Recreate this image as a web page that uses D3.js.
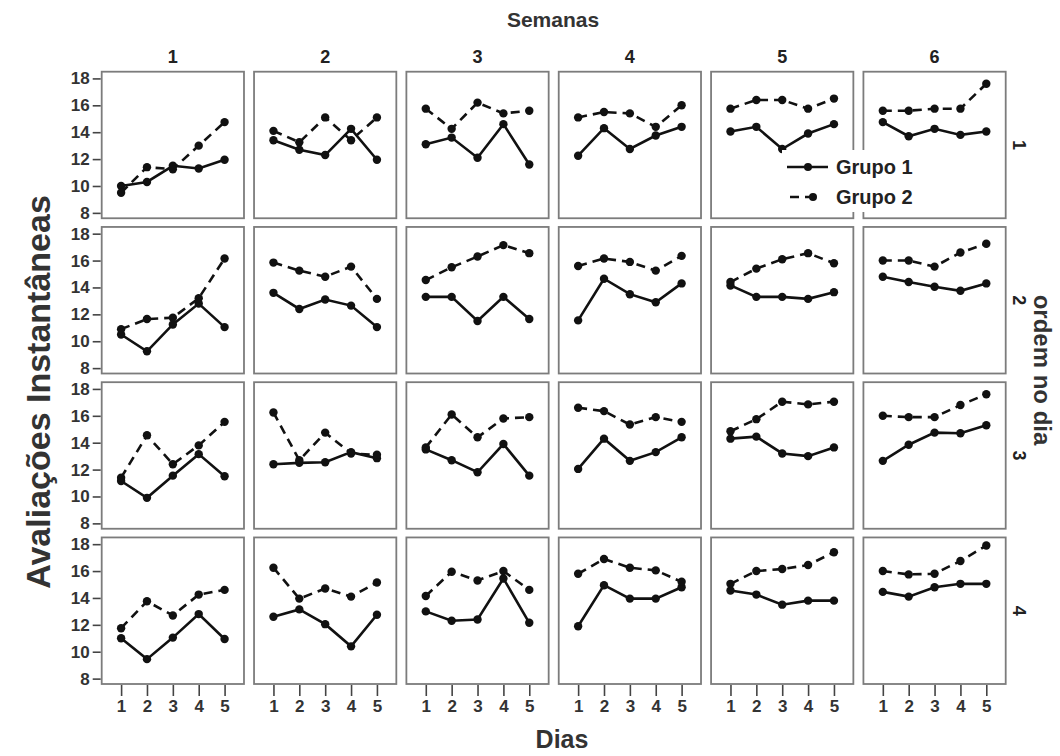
<!DOCTYPE html>
<html>
<head>
<meta charset="utf-8">
<script src="https://d3js.org/d3.v7.min.js"></script>
<style>
    html, body { margin: 0; background: white; }
    svg { font-family: 'Liberation Sans', Arial, sans-serif; }
    .frame { fill: white; stroke: #7c7c7c; stroke-width: 1.8; }
    .tick text { font-size: 17px; font-weight: bold; fill: #333; font-family: 'Liberation Sans', Arial, sans-serif; }
    .tick line { stroke: #444; stroke-width: 1.6; }
    .domain { display: none; }
</style>
</head>
<body>
<script>

//DATA
let semanas = ['1', '2', '3', '4', '5', '6']
let ordens = ['1', '2', '3', '4']
let dias = [1, 2, 3, 4, 5]
let yTicks = [8, 10, 12, 14, 16, 18]

// [ordem][semana][dia]
let grupo1 = [
    [[10.0, 10.3, 11.5, 11.3, 11.95], [13.4, 12.7, 12.3, 14.25, 11.95], [13.1, 13.6, 12.1, 14.6, 11.6],
     [12.25, 14.3, 12.75, 13.75, 14.4], [14.05, 14.4, 12.75, 13.9, 14.6], [14.75, 13.7, 14.25, 13.8, 14.05]],
    [[10.5, 9.25, 11.25, 12.8, 11.05], [13.6, 12.4, 13.1, 12.65, 11.05], [13.3, 13.3, 11.5, 13.3, 11.65],
     [11.55, 14.65, 13.5, 12.9, 14.3], [14.15, 13.3, 13.3, 13.15, 13.65], [14.8, 14.4, 14.05, 13.75, 14.3]],
    [[11.15, 9.9, 11.55, 13.15, 11.5], [12.4, 12.5, 12.55, 13.3, 12.85], [13.5, 12.7, 11.8, 13.9, 11.55],
     [12.05, 14.3, 12.65, 13.3, 14.4], [14.3, 14.45, 13.2, 13.0, 13.65], [12.65, 13.85, 14.75, 14.7, 15.3]],
    [[11.0, 9.45, 11.05, 12.8, 10.95], [12.6, 13.15, 12.05, 10.4, 12.75], [13.0, 12.3, 12.4, 15.45, 12.15],
     [11.9, 14.95, 13.95, 13.95, 14.8], [14.55, 14.25, 13.5, 13.8, 13.8], [14.45, 14.1, 14.8, 15.05, 15.05]]
]
let grupo2 = [
    [[9.5, 11.4, 11.25, 13.0, 14.75], [14.1, 13.25, 15.1, 13.4, 15.1], [15.75, 14.25, 16.2, 15.4, 15.6],
     [15.1, 15.5, 15.4, 14.4, 16.0], [15.75, 16.4, 16.4, 15.75, 16.5], [15.6, 15.6, 15.75, 15.75, 17.6]],
    [[10.9, 11.65, 11.75, 13.2, 16.15], [15.85, 15.25, 14.8, 15.55, 13.15], [14.55, 15.5, 16.3, 17.15, 16.55],
     [15.6, 16.15, 15.9, 15.25, 16.35], [14.4, 15.4, 16.1, 16.55, 15.8], [16.0, 16.0, 15.55, 16.6, 17.25]],
    [[11.4, 14.55, 12.4, 13.8, 15.55], [16.25, 12.7, 14.75, 13.2, 13.1], [13.65, 16.1, 14.4, 15.8, 15.9],
     [16.6, 16.35, 15.35, 15.9, 15.55], [14.85, 15.75, 17.05, 16.85, 17.05], [16.0, 15.9, 15.9, 16.8, 17.6]],
    [[11.75, 13.75, 12.7, 14.25, 14.6], [16.25, 13.95, 14.7, 14.1, 15.15], [14.15, 15.95, 15.3, 16.0, 14.6],
     [15.8, 16.9, 16.25, 16.05, 15.2], [15.05, 16.0, 16.15, 16.45, 17.4], [16.0, 15.75, 15.8, 16.75, 17.9]]
]

let grupos = ['Grupo 1', 'Grupo 2']
let dashes = ['none', '9,6']

//SCALES
let W = 1060, H = 756
let svg = d3.select('body').append('svg').attr('width', W).attr('height', H)

let col = d3.scaleBand().domain(semanas).range([101.7, 1005.7]).paddingInner(0.066)
let row = d3.scaleBand().domain(ordens).range([71.7, 684]).paddingInner(0.056)
let x = d3.scaleLinear().domain([0.25, 5.75]).range([0, col.bandwidth()])
let y = d3.scaleLinear().domain([7.6, 18.5]).range([row.bandwidth(), 0])

let line = d3.line().x((d, i) => x(dias[i])).y(d => y(d))

//PANELS
ordens.forEach((o, r) => {
    semanas.forEach((s, c) => {
        let g = svg.append('g').attr('transform', 'translate(' + col(s) + ',' + row(o) + ')')
        g.append('rect').attr('class', 'frame')
            .attr('width', col.bandwidth()).attr('height', row.bandwidth())

        ;[grupo1, grupo2].forEach((gr, k) => {
            let vals = gr[r][c]
            g.append('path').datum(vals)
                .attr('d', line)
                .attr('fill', 'none')
                .attr('stroke', '#111')
                .attr('stroke-width', 2.6)
                .attr('stroke-dasharray', dashes[k])
            g.selectAll('circle.g' + k).data(vals).enter().append('circle')
                .attr('class', 'g' + k)
                .attr('cx', (d, i) => x(dias[i]))
                .attr('cy', d => y(d))
                .attr('r', 4.2)
                .attr('fill', '#111')
        })

        if (c == 0) {
            g.append('g').attr('transform', 'translate(-1,0)')
                .call(d3.axisLeft(y).tickValues(yTicks).tickSize(8).tickPadding(3))
        }
        if (r == ordens.length - 1) {
            g.append('g').attr('transform', 'translate(0,' + (row.bandwidth() + 1) + ')')
                .call(d3.axisBottom(x).tickValues(dias).tickFormat(d3.format('d')).tickSize(11).tickPadding(4))
        }
    })
})

//HEADERS
svg.selectAll('text.col').data(semanas).enter().append('text')
    .attr('x', d => col(d) + col.bandwidth() / 2)
    .attr('y', 63)
    .attr('text-anchor', 'middle')
    .style('font-size', '18px').style('font-weight', 'bold').style('fill', '#222')
    .text(d => d)

svg.selectAll('text.row').data(ordens).enter().append('text')
    .attr('transform', d => 'translate(1013,' + (row(d) + row.bandwidth() / 2) + ') rotate(90)')
    .attr('text-anchor', 'middle')
    .style('font-size', '18px').style('font-weight', 'bold').style('fill', '#222')
    .text(d => d)

svg.append('text').attr('x', 553).attr('y', 27)
    .attr('text-anchor', 'middle')
    .style('font-size', '21px').style('font-weight', 'bold').style('fill', '#333')
    .text('Semanas')

svg.append('text').attr('x', 562).attr('y', 748)
    .attr('text-anchor', 'middle')
    .style('font-size', '25px').style('font-weight', 'bold').style('fill', '#333')
    .text('Dias')

svg.append('text')
    .attr('transform', 'translate(50,392) rotate(-90)')
    .attr('text-anchor', 'middle')
    .style('font-size', '34px').style('font-weight', 'bold').style('fill', '#333')
    .text('Avaliações Instantâneas')

svg.append('text')
    .attr('transform', 'translate(1034,370) rotate(90)')
    .attr('text-anchor', 'middle')
    .style('font-size', '24px').style('font-weight', 'bold').style('fill', '#333')
    .text('ordem no dia')

//LEGEND
let leg = svg.append('g')
leg.append('rect').attr('x', 782).attr('y', 150).attr('width', 160).attr('height', 62).attr('fill', 'white')
grupos.forEach((gname, k) => {
    let ly = 167 + k * 30
    leg.append('line')
        .attr('x1', 787 + k * 3).attr('x2', 828 - k * 8)
        .attr('y1', ly).attr('y2', ly)
        .attr('stroke', '#111').attr('stroke-width', 2.6)
        .attr('stroke-dasharray', dashes[k])
    leg.append('circle').attr('cx', 808 + k * 5).attr('cy', ly).attr('r', 4).attr('fill', '#111')
    leg.append('text').attr('x', 836).attr('y', ly + 7)
        .style('font-size', '20px').style('font-weight', 'bold').style('fill', '#222')
        .text(gname)
})

</script>
</body>
</html>
